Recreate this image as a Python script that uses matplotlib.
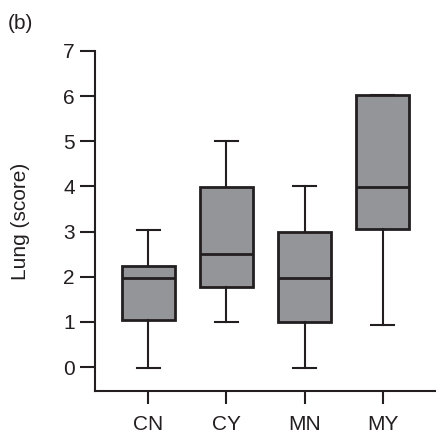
import matplotlib
matplotlib.use("Agg")
import matplotlib.pyplot as plt

categories = ["CN", "CY", "MN", "MY"]
whislo = [-0.03, 1.0, -0.02, 0.94]
q1 = [1.05, 1.78, 1.0, 3.06]
med = [1.97, 2.51, 1.98, 3.99]
q3 = [2.23, 3.98, 2.99, 6.02]
whishi = [3.03, 5.0, 4.0, 6.02]
yticks = [0, 1, 2, 3, 4, 5, 6, 7]

plt.rcParams['font.family'] = ['Liberation Sans', 'DejaVu Sans']

fig = plt.figure(figsize=(4.36, 4.34), dpi=100)
ax = fig.add_axes([0.218, 0.099, 0.780, 0.7835])

stats = []
for i, c in enumerate(categories):
    stats.append(dict(label=c, whislo=whislo[i], q1=q1[i], med=med[i],
                      q3=q3[i], whishi=whishi[i], fliers=[]))

edge = "#231f20"
ax.bxp(stats, positions=[1, 2, 3, 4], widths=0.68, patch_artist=True,
       showfliers=False,
       boxprops=dict(facecolor="#939598", edgecolor=edge, linewidth=2.0),
       medianprops=dict(color=edge, linewidth=2.0),
       whiskerprops=dict(color=edge, linewidth=1.5),
       capprops=dict(color=edge, linewidth=1.5),
       capwidths=0.29)

ax.set_xlim(0.32, 4.67)
ax.set_ylim(-0.53, 7)
ax.set_yticks(yticks)
ax.set_xticks([1, 2, 3, 4])
ax.set_xticklabels(categories)

for s in ["top", "right"]:
    ax.spines[s].set_visible(False)
for s in ["left", "bottom"]:
    ax.spines[s].set_linewidth(1.5)
    ax.spines[s].set_color(edge)

ax.tick_params(axis="y", length=11, width=1.5, color=edge, labelsize=15, pad=3.5, labelcolor=edge)
ax.tick_params(axis="x", length=9, width=1.5, color=edge, labelsize=15, pad=8, labelcolor=edge)

ax.set_ylabel("Lung (score)", fontsize=15, color=edge, va="center")
ax.yaxis.set_label_coords(-0.218, 0.5)
fig.text(0.018, 0.945, "(b)", fontsize=15, color=edge, ha="left", va="center")

fig.savefig("out.png", dpi=100)
